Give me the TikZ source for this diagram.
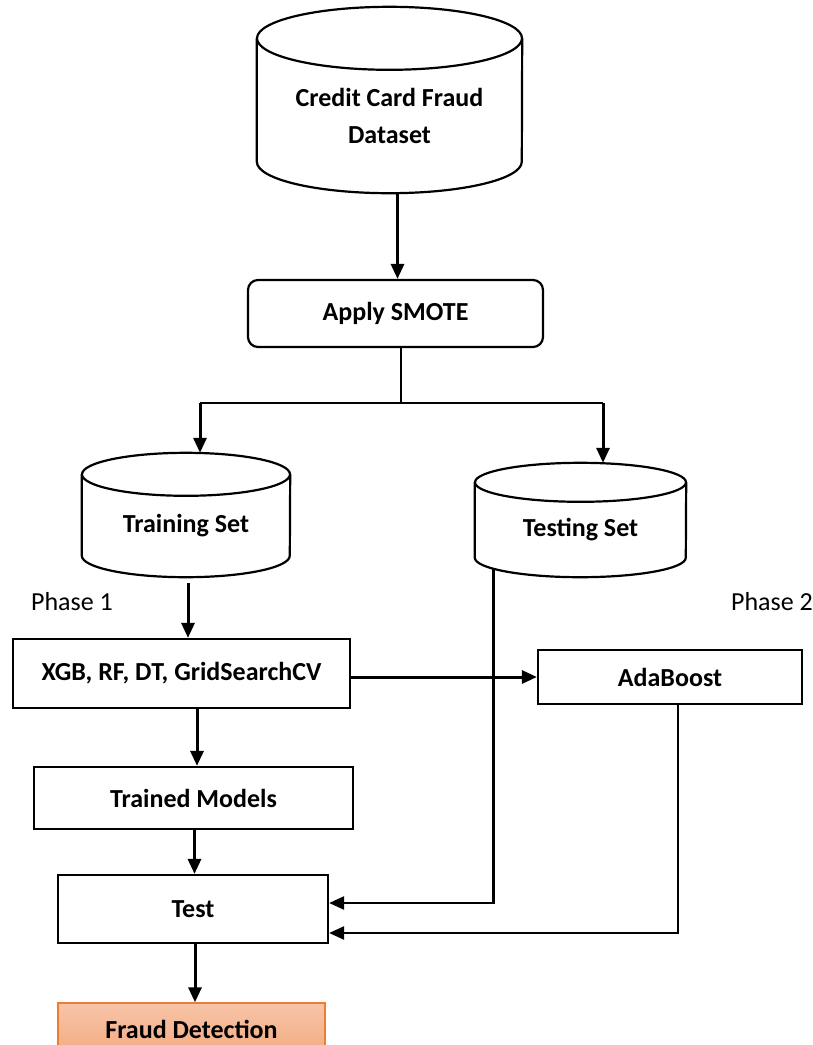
\documentclass[tikz,border=0pt]{standalone}
\usepackage{fontspec}
\setmainfont{Carlito}
\usetikzlibrary{arrows.meta, positioning}
\tikzset{
  x=1pt, y=-1pt,
  >={Triangle[length=15pt,width=13pt]},
  every node/.style={font=\fontsize{26}{37}\selectfont},
  dbtext/.style={align=center,inner sep=0pt,font=\fontsize{26}{37}\selectfont\bfseries},
  dbline/.style={draw,line width=2.2pt},
  stepbox/.style={draw,line width=2.2pt,align=center,inner sep=0pt,
    font=\fontsize{26}{37}\selectfont\bfseries},
  flow/.style={draw,->,line width=3pt},
  plain/.style={draw,line width=2pt},
  feed/.style={draw,->,line width=2.4pt},
  phaselbl/.style={font=\fontsize{26}{30}\selectfont}, %phase label
}
% database drum: name, x, y, width, body height, cap radius, text
\newcommand{\dbstore}[7]{%
  \node[dbtext,minimum width=#4pt,minimum height=#5pt] at (#2,#3) (#1){#7};
  \draw[dbline] (#1.north west) -- ([yshift=#6pt]#1.south west)
    arc[start angle=180,end angle=0,x radius=#4/2,y radius=#6] -- (#1.north east);
  \draw[dbline] (#1.north) ellipse[x radius=#4/2,y radius=#6];
  \coordinate (#1 top) at ([yshift=#6pt]#1.north);
}

\begin{document}
\begin{tikzpicture}
  \clip (0,0) rectangle (812,1045);
  \useasboundingbox (0,0) rectangle (812,1045);

  % Dataset
  \dbstore{data}{389.5}{115.75}{265}{154.5}{31.5}{Credit Card Fraud\\Dataset}

  % SMOTE
  \node[stepbox,rounded corners=10pt,minimum width=295pt,minimum height=67pt] at (395.5,313.5) (smote){Apply SMOTE};
  \coordinate (split) at (401,403);

  % Train / test split
  \dbstore{train}{186}{525.75}{208}{102.5}{21.5}{Training Set}
  \dbstore{testset}{580.5}{529.75}{211}{94.5}{19.5}{Testing Set}

  \node[phaselbl] at (72,602) (ph1){Phase 1};
  \node[phaselbl] at (772,602) (ph2){Phase 2};

  % Phase 1
  \node[stepbox,minimum width=337pt,minimum height=69pt] at (181.5,673.5) (xgb){XGB, RF, DT, GridSearchCV};
  \node[stepbox,minimum width=319pt,minimum height=62pt] at (193.5,798) (trained){Trained Models};
  \node[stepbox,minimum width=270pt,minimum height=68pt] at (193,909) (test){Test};
  \node[stepbox,line width=1.4pt,draw={rgb,255:red,237;green,125;blue,49},
    top color={rgb,255:red,247;green,196;blue,168},
    bottom color={rgb,255:red,243;green,170;blue,130},
    minimum width=267pt,minimum height=52pt] at (191.5,1029) (fraud){Fraud Detection};

  % Phase 2
  \node[stepbox,minimum width=264pt,minimum height=54pt] at (670,677) (ada){AdaBoost};

  % Connectors
  \draw[flow] ([xshift=8pt]data.south) -- ([xshift=8pt]data.south |- smote.north);
  \draw[plain] ([xshift=5.5pt]smote.south) -- (split);
  \draw[plain] (split) -- (200,403);
  \draw[plain] (split) -- (603,403);
  \draw[flow] (200,403) -- (200,403 |- train top);
  \draw[flow] (603,403) -- (603,403 |- testset top);
  \draw[flow,shorten <=6pt] ([xshift=2pt]train.south) -- ([xshift=2pt]train.south |- xgb.north);
  \draw[flow] (xgb.east |- ada.west) -- (ada.west);
  \draw[flow] ([xshift=15.5pt]xgb.south) -- ([xshift=15.5pt]xgb.south |- trained.north);
  \draw[flow] ([xshift=1pt]trained.south) -- ([xshift=1pt]trained.south |- test.north);
  \coordinate (tsout) at ([xshift=-87pt,yshift=8pt]testset.south);
  \draw[feed] (tsout) |- ([yshift=6pt]test.east);
  \draw[feed] ([xshift=8pt]ada.south) |- ([yshift=-24pt]test.east);
  \draw[flow] ([xshift=2pt]test.south) -- ([xshift=2pt]test.south |- fraud.north);
\end{tikzpicture}
\end{document}
